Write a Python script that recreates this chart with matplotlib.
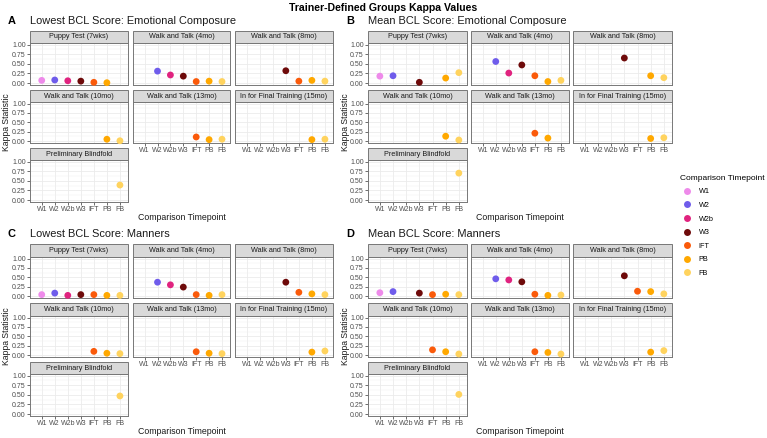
import numpy as np
import matplotlib
matplotlib.use('Agg')
import matplotlib.pyplot as plt
from matplotlib.patches import Rectangle
from matplotlib.lines import Line2D

plt.rcParams['font.family'] = ['Liberation Sans', 'DejaVu Sans']

nan = np.nan
categories = ['W1', 'W2', 'W2b', 'W3', 'IFT', 'PB', 'FB']
point_colors = ['#EE8AEA', '#6F5CEB', '#E0237F', '#6E0A0A', '#FA5A0A', '#FFA800', '#FFD35E']
facets = ['Puppy Test (7wks)', 'Walk and Talk (4mo)', 'Walk and Talk (8mo)',
          'Walk and Talk (10mo)', 'Walk and Talk (13mo)', 'In for Final Training (15mo)',
          'Preliminary Blindfold']

lowest_emotional = [
    [0.07, 0.08, 0.06, 0.05, 0.02, 0.01, nan],
    [nan, 0.31, 0.21, 0.18, 0.04, 0.05, 0.04],
    [nan, nan, nan, 0.32, 0.05, 0.07, 0.05],
    [nan, nan, nan, nan, nan, 0.05, 0.01],
    [nan, nan, nan, nan, 0.11, 0.04, 0.05],
    [nan, nan, nan, nan, nan, 0.04, 0.05],
    [nan, nan, nan, nan, nan, nan, 0.39],
]
mean_emotional = [
    [0.18, 0.19, nan, 0.02, nan, 0.13, 0.27],
    [nan, 0.56, 0.26, 0.47, 0.19, 0.04, 0.07],
    [nan, nan, nan, 0.65, nan, 0.19, 0.14],
    [nan, nan, nan, nan, nan, 0.13, 0.03],
    [nan, nan, nan, nan, 0.21, 0.08, nan],
    [nan, nan, nan, nan, nan, 0.07, 0.09],
    [nan, nan, nan, nan, nan, nan, 0.70],
]
lowest_manners = [
    [0.04, 0.08, 0.02, 0.04, 0.04, 0.02, 0.02],
    [nan, 0.37, 0.30, 0.24, 0.04, 0.02, 0.04],
    [nan, nan, nan, 0.37, 0.10, 0.06, 0.04],
    [nan, nan, nan, nan, 0.10, 0.05, 0.04],
    [nan, nan, nan, nan, 0.09, 0.05, 0.04],
    [nan, nan, nan, nan, nan, 0.08, 0.11],
    [nan, nan, nan, nan, nan, nan, 0.47],
]
mean_manners = [
    [0.09, 0.12, nan, 0.08, 0.04, 0.05, 0.04],
    [nan, 0.46, 0.43, 0.38, 0.05, 0.02, 0.03],
    [nan, nan, nan, 0.54, 0.13, 0.12, 0.06],
    [nan, nan, nan, nan, 0.14, 0.09, 0.03],
    [nan, nan, nan, nan, 0.09, 0.07, 0.03],
    [nan, nan, nan, nan, nan, 0.08, 0.12],
    [nan, nan, nan, nan, nan, nan, 0.51],
]
panel_titles = ['Lowest BCL Score: Emotional Composure', 'Mean BCL Score: Emotional Composure',
                'Lowest BCL Score: Manners', 'Mean BCL Score: Manners']
panel_letters = ['A', 'B', 'C', 'D']
panel_data = [lowest_emotional, mean_emotional, lowest_manners, mean_manners]

W, H = 767, 438
fig = plt.figure(figsize=(W / 100, H / 100), dpi=100)

def fx(x):
    return x / W

def fy(y):
    return 1 - y / H

left_cols = [(30, 128), (133, 230), (235, 333)]
right_cols = [(368, 467), (471, 569), (573, 672)]
top_rows = [(31, 43, 85), (90, 102, 143), (148, 160, 202)]
bot_rows = [(244, 257, 298), (303, 316, 357), (362, 374, 416)]

layouts = [(left_cols, top_rows), (right_cols, top_rows), (left_cols, bot_rows), (right_cols, bot_rows)]
xpos = np.arange(len(categories))
bottom_facets = {0: 6, 1: 4, 2: 5}

for p, (cols, rows) in enumerate(layouts):
    data = panel_data[p]
    for i, fname in enumerate(facets):
        r, c = divmod(i, 3)
        x0, x1 = cols[c]
        st, y0, y1 = rows[r]
        ax = fig.add_axes([fx(x0), fy(y1), fx(x1 - x0), (y1 - y0) / H])
        ax.set_xlim(-0.9, 6.62)
        ax.set_ylim(-0.05, 1.04)
        ax.set_yticks([0, 0.25, 0.5, 0.75, 1.0])
        ax.set_yticks([0.125, 0.375, 0.625, 0.875], minor=True)
        ax.set_xticks(xpos)
        ax.grid(True, which='major', color='#EBEBEB', lw=0.6)
        ax.grid(True, which='minor', axis='y', color='#F2F2F2', lw=0.35)
        ax.set_axisbelow(True)
        for s in ax.spines.values():
            s.set_color('#777777')
            s.set_linewidth(0.7)
        vals = np.array(data[i], dtype=float)
        mask = ~np.isnan(vals)
        ax.scatter(xpos[mask], vals[mask], s=24, c=[point_colors[k] for k in np.where(mask)[0]],
                   edgecolors='none', zorder=3, clip_on=False)
        ax.tick_params(axis='both', which='major', length=2, width=0.5, color='#333333',
                       labelsize=5.0, labelcolor='#4D4D4D', pad=1)
        ax.tick_params(axis='both', which='minor', length=0)
        if c == 0:
            ax.set_yticklabels(['0.00', '0.25', '0.50', '0.75', '1.00'])
        else:
            ax.tick_params(axis='y', which='major', length=0, labelleft=False)
        if bottom_facets[c] == i:
            ax.set_xticklabels(categories)
        else:
            ax.tick_params(axis='x', which='major', length=0, labelbottom=False)
        sh = (y0 - st) / (y1 - y0)
        ax.add_patch(Rectangle((0, 1), 1, sh, transform=ax.transAxes, clip_on=False,
                               facecolor='#D9D9D9', edgecolor='#777777', lw=0.7))
        ax.text(0.5, 1 + sh / 2, fname, transform=ax.transAxes, ha='center', va='center',
                fontsize=5.2, color='#1A1A1A')
    px0 = cols[0][0]
    px1 = cols[2][1]
    ptop = rows[0][0]
    pbot = rows[2][2]
    fig.text(fx(px0), fy(ptop - 10), panel_titles[p], fontsize=7.9, ha='left', va='center', color='#1A1A1A')
    fig.text(fx(px0 - 22), fy(ptop - 10), panel_letters[p], fontsize=7.9, fontweight='bold', ha='left', va='center')
    fig.text(fx((px0 + px1) / 2), fy(pbot + 15), 'Comparison Timepoint', fontsize=6.3, ha='center', va='center', color='#1A1A1A')
    fig.text(fx(px0 - 23), fy((rows[0][1] + pbot) / 2), 'Kappa Statistic', fontsize=6.2, rotation=90,
             ha='center', va='center', color='#1A1A1A')

fig.text(0.5, fy(8), 'Trainer-Defined Groups Kappa Values', fontsize=7.6, fontweight='bold', ha='center', va='center')

handles = [Line2D([], [], marker='o', ls='none', markersize=5, markerfacecolor=col, markeredgecolor='none')
           for col in point_colors]
leg = fig.legend(handles, categories, title='Comparison Timepoint', loc='upper left',
                 bbox_to_anchor=(fx(677), fy(172)), frameon=False, fontsize=5.2, title_fontsize=6.0,
                 labelspacing=0.9, handletextpad=0.6, borderaxespad=0)
leg._legend_box.align = 'left'

fig.savefig('out.png', dpi=100)
